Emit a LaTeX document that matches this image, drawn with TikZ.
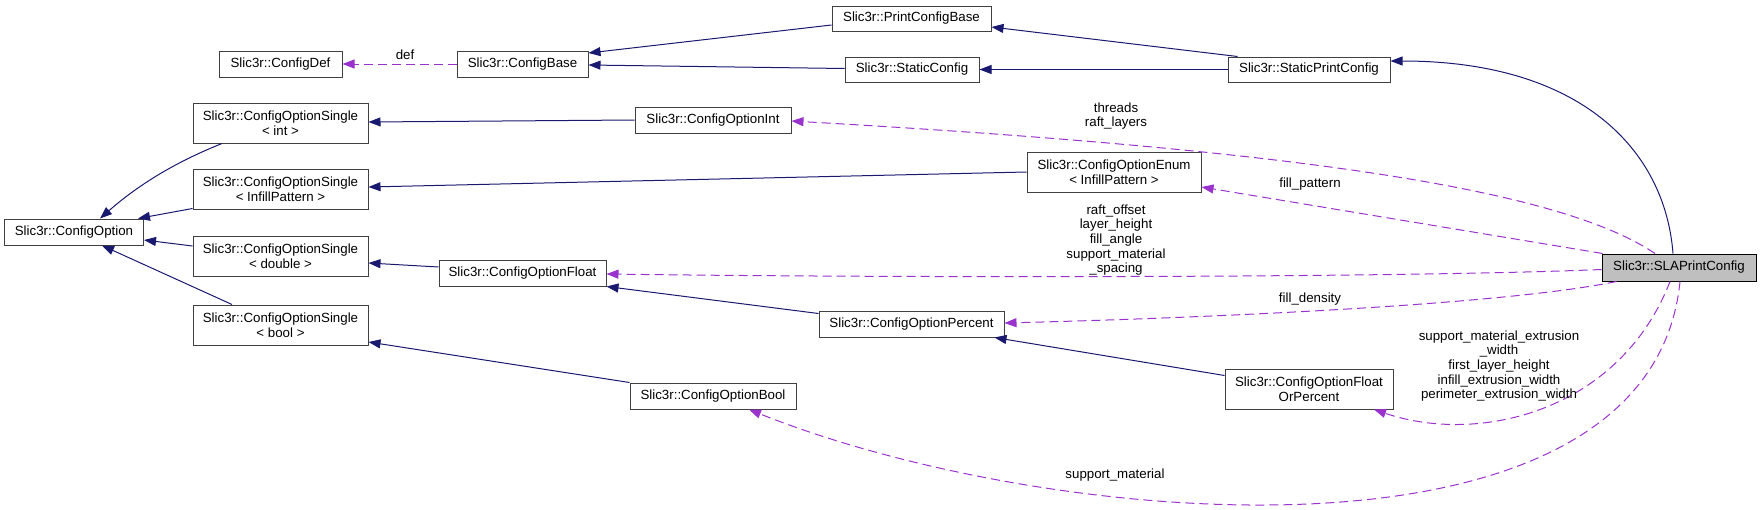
\documentclass[tikz,border=0pt]{standalone}
\usepackage{fontspec}
\setmainfont{Liberation Sans}
\usetikzlibrary{arrows.meta,calc}
\definecolor{isacol}{HTML}{191970}
\definecolor{usecol}{HTML}{9A32CD}
\definecolor{boxcol}{HTML}{404040}
\newcommand{\dxfont}{\fontsize{13.3}{14.6}\selectfont}
\tikzstyle{cls} = [rectangle, draw=boxcol, fill=white, line width=1pt,
align=center, inner sep=0pt, minimum height=26pt, font=\dxfont]
\tikzstyle{cls2} = [cls, minimum height=40pt]
\tikzstyle{focus} = [cls, draw=black, fill=black!25, minimum height=27pt]
\tikzstyle{isa} = [draw=isacol, line width=1pt, -{Triangle[length=12pt,width=9pt]}]
\tikzstyle{usedby} = [draw=usecol, line width=1pt, dash pattern=on 9pt off 5pt,
-{Triangle[length=12pt,width=9pt]}]
\tikzstyle{lbl} = [inner sep=0pt, align=center, font=\dxfont, text=black]

\begin{document}
\begin{tikzpicture}[x=1pt, y=-1pt]
			\useasboundingbox (0,0) rectangle (1761,509);
			% Place nodes
			\node [cls, minimum width=123pt] (cdef) at (280.5,64) {Slic3r::ConfigDef};
			\node [cls, minimum width=131pt] (cbase) at (522.5,64) {Slic3r::ConfigBase};
			\node [cls, minimum width=159pt, minimum height=25pt] (pcbase) at (911.5,18.5)
			{Slic3r::PrintConfigBase};
			\node [cls, minimum width=134pt, minimum height=25pt] (scfg) at (912,69.5)
			{Slic3r::StaticConfig};
			\node [cls, minimum width=162pt, minimum height=25pt] (spcfg) at (1309,69.5)
			{Slic3r::StaticPrintConfig};
			\node [cls, minimum width=139pt] (copt) at (74,232) {Slic3r::ConfigOption};
			\node [cls2, minimum width=175pt] (single-int) at (280.5,123)
			{Slic3r::ConfigOptionSingle\\< int >};
			\node [cls2, minimum width=175pt] (single-infill) at (280.5,189)
			{Slic3r::ConfigOptionSingle\\< InfillPattern >};
			\node [cls2, minimum width=175pt] (single-double) at (280.5,256)
			{Slic3r::ConfigOptionSingle\\< double >};
			\node [cls2, minimum width=175pt] (single-bool) at (280.5,325)
			{Slic3r::ConfigOptionSingle\\< bool >};
			\node [cls, minimum width=156pt] (opt-int) at (713,120) {Slic3r::ConfigOptionInt};
			\node [cls2, minimum width=174pt] (opt-enum) at (1114,172)
			{Slic3r::ConfigOptionEnum\\< InfillPattern >};
			\node [cls, minimum width=167pt] (opt-float) at (522.5,273)
			{Slic3r::ConfigOptionFloat};
			\node [cls, minimum width=185pt] (opt-percent) at (911.5,324)
			{Slic3r::ConfigOptionPercent};
			\node [cls, minimum width=166pt] (opt-bool) at (713,396) {Slic3r::ConfigOptionBool};
			\node [cls2, minimum width=168pt] (opt-fop) at (1309,389)
			{Slic3r::ConfigOptionFloat\\OrPercent};
			\node [focus, minimum width=154pt] (sla) at (1679,267.5) {Slic3r::SLAPrintConfig};
			% inheritance
			\path [isa] ($(pcbase.west)+(0,6.5)$) -- ($(cbase.east)+(0,-11)$);
			\path [isa] ($(scfg.west)+(0,-1)$) -- ($(cbase.east)+(0,1)$);
			\path [isa] ($(spcfg.north west)+(10,0)$) -- ($(pcbase.east)+(0,8.5)$);
			\path [isa] (spcfg.west) -- (scfg.east);
			\path [isa] ($(sla.north)+(-6,0)$) .. controls +(-8,-104) and +(190,0) ..
			($(spcfg.east)+(0,-8.5)$);
			\path [isa] ($(single-int.south)+(-58.5,0)$) .. controls +(-45,18) and +(40,-35) ..
			($(copt.north)+(26,0)$);
			\path [isa] ($(single-infill.south west)+(0,-1)$) -- ($(copt.north east)+(-6,0)$);
			\path [isa] ($(single-double.west)+(0,-10)$) -- ($(copt.east)+(0,8)$);
			\path [isa] ($(single-bool.north)+(-48.5,0)$) -- ($(copt.south)+(28,0)$);
			\path [isa] (opt-int.west) -- ($(single-int.east)+(0,-1)$);
			\path [isa] (opt-enum.west) -- ($(single-infill.east)+(0,-2)$);
			\path [isa] ($(opt-float.west)+(0,-6)$) -- ($(single-double.east)+(0,7)$);
			\path [isa] (opt-bool.north west) -- ($(single-bool.east)+(0,17)$);
			\path [isa] ($(opt-percent.north west)+(0,3)$) -- (opt-float.south east);
			\path [isa] ($(opt-fop.north west)+(0,7)$) -- ($(opt-percent.south east)+(-10,0)$);
			% members
			\path [usedby] (cbase.west) -- (cdef.east);
			\node [lbl] (lbl-def) at (405,55) {def};
			\path [usedby] ($(sla.north)+(-24,0)$) .. controls +(-95,-64) and +(509,29) ..
			($(opt-int.east)+(0,1)$);
			\node [lbl] (lbl-int) at (1116,116) {threads\\raft\_layers};
			\path [usedby] ($(sla.north west)+(1,0)$) -- ($(opt-enum.east)+(0,15)$);
			\node [lbl] (lbl-enum) at (1310,184) {fill\_pattern};
			\path [usedby] ($(sla.west)+(0,2)$) .. controls +(-202,8.5) and +(294,4) ..
			($(opt-float.east)+(0,1)$);
			\node [lbl] (lbl-float) at (1116,240)
			{raft\_offset\\layer\_height\\fill\_angle\\support\_material\\\_spacing};
			\path [usedby] ($(sla.south west)+(15,0)$) .. controls +(-117,24) and +(196,-5) ..
			($(opt-percent.east)+(0,-1)$);
			\node [lbl] (lbl-percent) at (1310,299) {fill\_density};
			\path [usedby] ($(sla.south)+(-9,0)$) .. controls +(-50,129) and +(106,36) ..
			($(opt-fop.south)+(65,0)$);
			\node [lbl] (lbl-fop) at (1499,366)
			{support\_material\_extrusion\\\_width\\first\_layer\_height\\infill\_extrusion\_width\\perimeter\_extrusion\_width};
			\path [usedby] ($(sla.south)+(1,0)$) .. controls +(-30,300) and +(300,120) ..
			($(opt-bool.south)+(36,0)$);
			\node [lbl] (lbl-bool) at (1115,475) {support\_material};
		\end{tikzpicture}
\end{document}
